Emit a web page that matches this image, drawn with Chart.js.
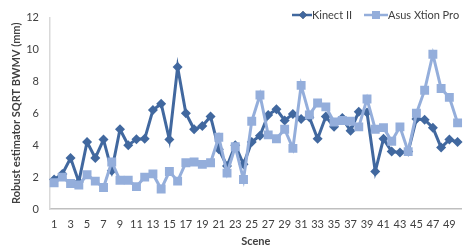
<!DOCTYPE html>
<html>
<head>
<meta charset="utf-8">
<script src="https://cdn.jsdelivr.net/npm/chart.js@4/dist/chart.umd.min.js"></script>
<style>
  html, body { margin: 0; padding: 0; background: #fff; overflow: hidden; width: 465px; height: 251px; }
  #wrap { position: relative; width: 468px; height: 251px; }
</style>
</head>
<body>
<div id="wrap"><canvas id="c"></canvas></div>
<script>
const scenes = Array.from({length: 50}, (_, i) => String(i + 1));
const kinect = [1.85, 2.2, 3.2, 1.7, 4.2, 3.2, 4.35, 2.4, 5.0, 4.0,
                4.38, 4.4, 6.2, 6.6, 4.35, 8.9, 6.0, 5.0, 5.2, 5.8,
                3.75, 2.7, 4.0, 2.8, 4.2, 4.6, 5.9, 6.25, 5.55, 5.95,
                5.65, 5.75, 4.4, 5.8, 5.15, 5.7, 4.9, 6.1, 6.05, 2.35,
                4.4, 3.6, 3.55, 3.6, 5.65, 5.6, 5.1, 3.85, 4.35, 4.2];
const asus = [1.65, 2.0, 1.6, 1.5, 2.15, 1.75, 1.35, 2.95, 1.8, 1.8,
              1.4, 2.0, 2.2, 1.25, 2.35, 1.75, 2.9, 2.95, 2.8, 2.9,
              4.5, 2.25, 3.9, 1.85, 5.5, 7.15, 4.65, 4.4, 5.0, 3.8,
              7.75, 5.9, 6.65, 6.4, 5.45, 5.55, 5.5, 5.15, 6.9, 5.0,
              5.1, 4.25, 5.15, 3.6, 6.0, 7.45, 9.7, 7.55, 7.0, 5.4];
const seriesNames = ['Kinect II', 'Asus Xtion Pro'];
const yTicks = [0, 2, 4, 6, 8, 10, 12];

const FONT = 'Lato, "Open Sans", sans-serif';
const kColor = '#41689f';
const aColor = '#94aedb';

const legendPlugin = {
  id: 'customLegend',
  afterDraw(chart) {
    const ctx = chart.ctx;
    ctx.save();
    ctx.font = '11px ' + FONT;
    ctx.textBaseline = 'middle';
    ctx.fillStyle = '#404040';
    const y = 15;
    // Kinect entry
    ctx.strokeStyle = kColor; ctx.lineWidth = 2.5;
    ctx.beginPath(); ctx.moveTo(292, y); ctx.lineTo(312, y); ctx.stroke();
    Chart.helpers.drawPoint(ctx, {pointStyle: 'rectRot', radius: 4, borderWidth: 0}, 303, y);
    ctx.fillStyle = kColor; ctx.fill();
    ctx.fillStyle = '#404040';
    ctx.fillText(seriesNames[0], 312, y);
    // Asus entry
    ctx.strokeStyle = aColor; ctx.lineWidth = 2.5;
    ctx.beginPath(); ctx.moveTo(364, y); ctx.lineTo(388, y); ctx.stroke();
    ctx.fillStyle = aColor;
    ctx.fillRect(372, y - 4, 8, 8);
    ctx.fillStyle = '#404040';
    ctx.fillText(seriesNames[1], 388, y);
    ctx.restore();
  }
};

new Chart(document.getElementById('c'), {
  type: 'line',
  data: {
    labels: scenes,
    datasets: [
      {
        label: seriesNames[0], data: kinect, order: 2,
        borderColor: kColor, backgroundColor: kColor, borderWidth: 3,
        pointStyle: 'rectRot', pointRadius: 5, pointBorderWidth: 0,
        tension: 0
      },
      {
        label: seriesNames[1], data: asus, order: 1,
        borderColor: aColor, backgroundColor: aColor, borderWidth: 3,
        pointStyle: 'rect', pointRadius: 6.3, pointBorderWidth: 0,
        tension: 0
      }
    ]
  },
  options: {
    responsive: true,
    maintainAspectRatio: false,
    animation: false,
    events: [],
    layout: { padding: { top: 10, right: 0, left: 0, bottom: 0 } },
    plugins: { legend: { display: false }, tooltip: { enabled: false } },
    scales: {
      x: {
        type: 'category',
        offset: true,
        grid: { display: false, drawTicks: false },
        border: { display: true, color: '#bfbfbf', width: 1.5 },
        ticks: {
          autoSkip: false, maxRotation: 0, minRotation: 0, padding: 9,
          color: '#404040', font: { family: FONT, size: 11 },
          callback: (v, i) => (i % 2 === 0 ? scenes[i] : '')
        },
        title: { display: true, text: 'Scene', color: '#404040',
                 font: { family: FONT, size: 11, weight: 'bold' }, padding: { top: 0, bottom: 3 } },
        afterFit: (s) => { s.height = 42; }
      },
      y: {
        min: 0, max: 12,
        afterBuildTicks: (s) => { s.ticks = yTicks.map(v => ({ value: v })); },
        grid: { display: false, drawTicks: false },
        border: { display: true, color: '#d9d9d9', width: 1.5 },
        ticks: { padding: 11, color: '#404040', font: { family: FONT, size: 11 } },
        title: { display: true, text: 'Robust estimator SQRT BWMV (mm)', color: '#404040',
                 font: { family: FONT, size: 11, weight: 'bold' }, padding: { top: 10, bottom: 0 } },
        afterFit: (s) => { s.width = 50; }
      }
    }
  },
  plugins: [legendPlugin]
});
</script>
</body>
</html>
